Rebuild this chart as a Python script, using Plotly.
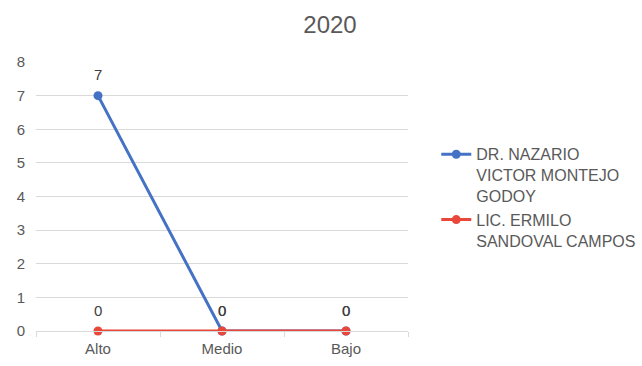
import plotly.graph_objects as go

categories = ["Alto", "Medio", "Bajo"]
series_names = ["DR. NAZARIO<br>VICTOR MONTEJO<br>GODOY", "LIC. ERMILO<br>SANDOVAL CAMPOS"]
blue_values = [7, 0, 0]
red_values = [0, 0, 0]
colors = ["#4472C4", "#E8473A"]

fig = go.Figure()
annotations = []
for name, vals, col in zip(series_names, [blue_values, red_values], colors):
    fig.add_trace(go.Scatter(
        x=categories, y=vals, name=name, mode="lines+markers",
        line=dict(color=col, width=3), marker=dict(color=col, size=9),
        cliponaxis=False,
    ))
    for c, v in zip(categories, vals):
        annotations.append(dict(x=c, y=v, text=str(v), showarrow=False, yshift=21,
                                font=dict(family="Liberation Sans, Arial", size=15, color="#404040")))

fig.update_layout(
    width=642, height=366,
    margin=dict(l=36, r=234, t=62, b=35, autoexpand=False),
    paper_bgcolor="white", plot_bgcolor="white",
    font=dict(family="Liberation Sans, Arial", size=15, color="#595959"),
    title=dict(text="2020", x=330/642, xanchor="center", y=1 - 25/366, yanchor="middle",
               font=dict(size=24, color="#595959")),
    showlegend=True,
    annotations=annotations,
    legend=dict(x=1.076, xanchor="left", y=0.497, yanchor="middle", valign="top",
                font=dict(size=16, color="#595959"), tracegroupgap=2),
    xaxis=dict(range=[-0.5, 2.5], showgrid=False, showline=True, linecolor="#d9d9d9",
               ticks="outside", tickcolor="#d9d9d9", ticklen=5, tickson="boundaries",
               ticklabelstandoff=4,
               tickfont=dict(size=15, color="#595959"), fixedrange=True),
    yaxis=dict(range=[0, 8], dtick=1, showgrid=True, gridcolor="#d9d9d9", zeroline=False,
               showline=False, tickfont=dict(size=15, color="#595959"), ticklabelstandoff=10,
               fixedrange=True),
)

fig.write_html("out.html")
